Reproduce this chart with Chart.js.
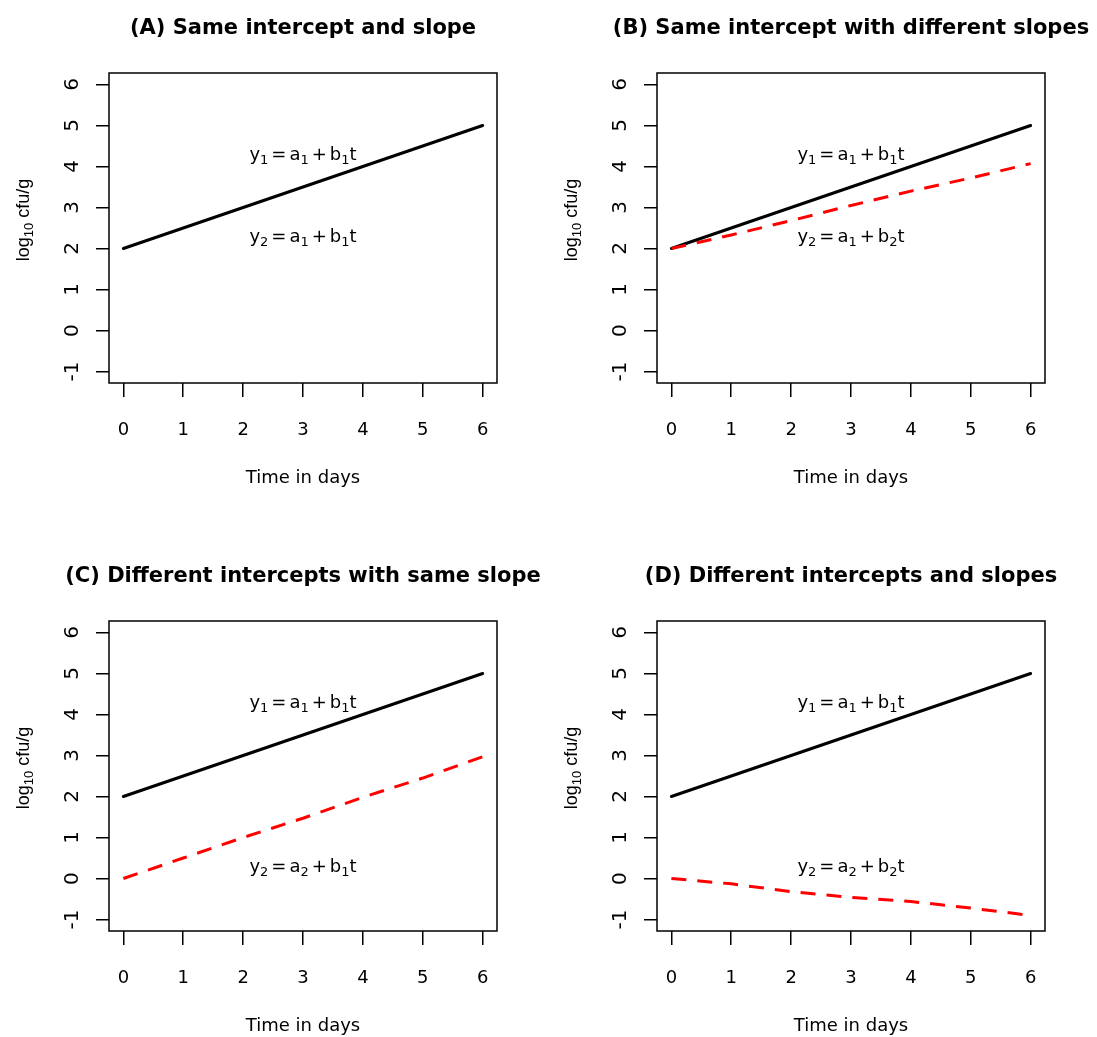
<!DOCTYPE html>
<html>
<head>
<meta charset="utf-8">
<script src="https://cdn.jsdelivr.net/npm/chart.js@4.4.1/dist/chart.umd.min.js"></script>
<style>
html, body { margin: 0; padding: 0; background: #fff; overflow: hidden; }
#wrap { position: relative; width: 1097px; height: 1037px; }
canvas { position: absolute; }
</style>
</head>
<body>
<div id="wrap"></div>
<script>
// values
const days = [0, 1, 2, 3, 4, 5, 6];
const xTicks = [0, 1, 2, 3, 4, 5, 6];
const yTicks = [-1, 0, 1, 2, 3, 4, 5, 6];
const titles = [
    "(A) Same intercept and slope",
    "(B) Same intercept with different slopes",
    "(C) Different intercepts with same slope",
    "(D) Different intercepts and slopes"
];
const y1 = [2, 2.5, 3, 3.5, 4, 4.5, 5];
const y2B = [2, 2.33, 2.68, 3.05, 3.4, 3.72, 4.07];
const y2C = [0, 0.5, 1.0, 1.47, 1.98, 2.45, 2.97];
const y2D = [0, -0.13, -0.32, -0.46, -0.56, -0.72, -0.9];
// subscripts [y, a, b] of the two equations in each panel
const eqSubs = [
    [["1", "1", "1"], ["2", "1", "1"]],
    [["1", "1", "1"], ["2", "1", "2"]],
    [["1", "1", "1"], ["2", "2", "1"]],
    [["1", "1", "1"], ["2", "2", "2"]]
];
const eqX = 3;
const eqY = [[4.3, 2.3], [4.3, 2.3], [4.3, 0.3], [4.3, 0.3]];

const panels = [
    { left: 0, top: 0, w: 548, red: null },
    { left: 548, top: 0, w: 549, red: y2B },
    { left: 0, top: 548, w: 548, red: y2C },
    { left: 548, top: 548, w: 549, red: y2D }
];

const H = 489;
const AREA = { left: 109, right: 497, top: 73, bottom: 383 };
const FONT = "DejaVu Sans";

// draw text with subscripts, parts = [[text, isSub, isGap], ...], centred on cx
function drawRich(ctx, parts, cx, base, family, size, gap) {
    const subSize = Math.round(size * 0.72);
    let total = 0;
    const widths = parts.map(p => {
        ctx.font = (p[1] ? subSize : size) + "px '" + family + "'";
        const ww = p[2] ? gap : ctx.measureText(p[0]).width;
        total += ww;
        return ww;
    });
    let x = cx - total / 2;
    parts.forEach((p, i) => {
        if (!p[2]) {
            ctx.font = (p[1] ? subSize : size) + "px '" + family + "'";
            ctx.fillText(p[0], x, p[1] ? base + 4 : base);
        }
        x += widths[i];
    });
}

function eqParts(s) {
    const g = ["", 0, 1];
    return [["y", 0], [s[0], 1], g, ["=", 0], g, ["a", 0], [s[1], 1], g, ["+", 0], g, ["b", 0], [s[2], 1], ["t", 0]];
}

const framePlugin = {
    id: "frame",
    afterDraw(chart) {
        const ctx = chart.ctx;
        const a = chart.chartArea;
        const idx = chart.options.panelIndex;
        ctx.save();
        ctx.strokeStyle = "#000";
        ctx.lineWidth = 1.5;
        ctx.strokeRect(a.left, a.top, a.right - a.left, a.bottom - a.top);

        ctx.fillStyle = "#000";
        ctx.textAlign = "center";
        ctx.textBaseline = "alphabetic";
        ctx.font = "bold 21px '" + FONT + "'";
        ctx.fillText(titles[idx], (a.left + a.right) / 2, 34);

        ctx.textAlign = "left";
        const sx = chart.scales.x, sy = chart.scales.y;
        eqSubs[idx].forEach((s, k) => {
            drawRich(ctx, eqParts(s), sx.getPixelForValue(eqX), sy.getPixelForValue(eqY[idx][k]) + 6, FONT, 18, 3);
        });

        // y axis title, rotated
        ctx.save();
        ctx.translate(29, (a.top + a.bottom) / 2 - 8);
        ctx.rotate(-Math.PI / 2);
        drawRich(ctx, [["log", 0], ["10", 1], [" cfu/g", 0]], 0, 0, "Liberation Sans", 18, 0);
        ctx.restore();
        ctx.restore();
    }
};

const wrap = document.getElementById("wrap");

panels.forEach((p, idx) => {
    const canvas = document.createElement("canvas");
    canvas.width = p.w;
    canvas.height = H;
    canvas.style.left = p.left + "px";
    canvas.style.top = p.top + "px";
    wrap.appendChild(canvas);

    const datasets = [];
    if (p.red) {
        datasets.push({
            data: days.map((d, i) => ({ x: d, y: p.red[i] })),
            borderColor: "#ff0000",
            borderWidth: 3,
            borderDash: [15, 11],
            borderCapStyle: "butt",
            pointRadius: 0,
            tension: 0
        });
    }
    datasets.push({
        data: days.map((d, i) => ({ x: d, y: y1[i] })),
        borderColor: "#000",
        borderWidth: 3,
        borderCapStyle: "round",
        pointRadius: 0,
        tension: 0
    });

    const tickFont = { family: FONT, size: 18 };

    new Chart(canvas, {
        type: "line",
        data: { datasets: datasets },
        options: {
            panelIndex: idx,
            responsive: false,
            animation: false,
            layout: { padding: { left: 0, top: AREA.top, right: p.w - AREA.right, bottom: 0 } },
            plugins: { legend: { display: false }, tooltip: { enabled: false } },
            scales: {
                x: {
                    type: "linear",
                    min: -0.24,
                    max: 6.24,
                    afterBuildTicks: s => { s.ticks = xTicks.map(v => ({ value: v })); },
                    afterFit: s => { s.height = H - AREA.bottom; },
                    grid: { drawOnChartArea: false, tickLength: 14, color: "#000", lineWidth: 1.5 },
                    border: { display: false },
                    ticks: { color: "#000", font: tickFont, padding: 23, maxRotation: 0, autoSkip: false,
                             callback: v => String(v) },
                    title: { display: true, text: "Time in days", color: "#000", font: tickFont,
                             padding: { top: 0, bottom: 0 } }
                },
                y: {
                    type: "linear",
                    min: -1.28,
                    max: 6.28,
                    afterBuildTicks: s => { s.ticks = yTicks.map(v => ({ value: v })); },
                    afterFit: s => { s.width = AREA.left; },
                    grid: { drawOnChartArea: false, tickLength: 13, color: "#000", lineWidth: 1.5 },
                    border: { display: false },
                    ticks: { color: "#000", font: { family: FONT, size: 20 }, padding: 13, minRotation: 90, maxRotation: 90,
                             crossAlign: "center", autoSkip: false, callback: v => String(v) }
                }
            }
        },
        plugins: [framePlugin]
    });
});
</script>
</body>
</html>
